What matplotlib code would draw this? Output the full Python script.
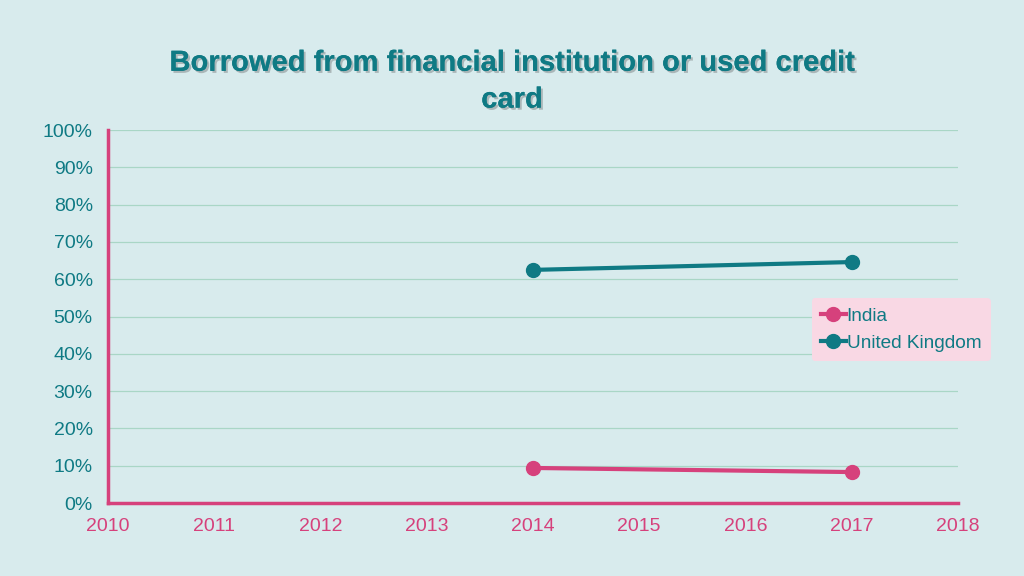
import numpy as np
import matplotlib.pyplot as plt
import matplotlib.patheffects as pe

plt.rcParams['font.family'] = ['Liberation Sans', 'DejaVu Sans']

years = [2014, 2017]
india = [9.4, 8.3]
uk = [62.5, 64.6]

BG = '#d8ebed'
TEAL = '#0f7a84'
PINK = '#d6417c'
GRID = '#a9d6c6'

fig = plt.figure(figsize=(10.24, 5.76), dpi=100, facecolor=BG)
ax = fig.add_axes([0.1055, 0.1267, 0.83, 0.6476], facecolor=BG)

ax.plot(years, india, color=PINK, lw=3, marker='o', ms=10, label='India', zorder=3)
ax.plot(years, uk, color=TEAL, lw=3, marker='o', ms=10, label='United Kingdom', zorder=3)

ax.set_xlim(2010, 2018)
ax.set_ylim(0, 100)
ax.set_xticks(range(2010, 2019))
ax.set_yticks(range(0, 101, 10))
ax.set_yticklabels([f'{v}%' for v in range(0, 101, 10)])
ax.grid(axis='y', color=GRID, lw=0.9)
ax.set_axisbelow(True)

for s in ['top', 'right']:
    ax.spines[s].set_visible(False)
for s in ['left', 'bottom']:
    ax.spines[s].set_color(PINK)
    ax.spines[s].set_linewidth(2.5)

ax.tick_params(axis='y', length=0, labelsize=14, labelcolor=TEAL, pad=11)
ax.tick_params(axis='x', length=0, labelsize=14, labelcolor=PINK, pad=11)

leg = ax.legend(loc='upper left', bbox_to_anchor=(0.8165, 0.575), frameon=True,
                fontsize=13.7, handlelength=1.3, handletextpad=0.05,
                borderpad=0.5, labelspacing=0.5, fancybox=True)
leg.get_frame().set_facecolor('#f9d8e4')
leg.get_frame().set_edgecolor('none')
leg.get_frame().set_alpha(1)
for t in leg.get_texts():
    t.set_color(TEAL)

fig.text(0.5, 0.859, 'Borrowed from financial institution or used credit\ncard',
         ha='center', va='center', fontsize=21, fontweight='bold', color=TEAL,
         linespacing=1.4,
         path_effects=[pe.withSimplePatchShadow(offset=(1.5, -1.5), shadow_rgbFace='#555555', alpha=0.35),
                       pe.Normal()])

fig.savefig('out.png', dpi=100, facecolor=BG)
